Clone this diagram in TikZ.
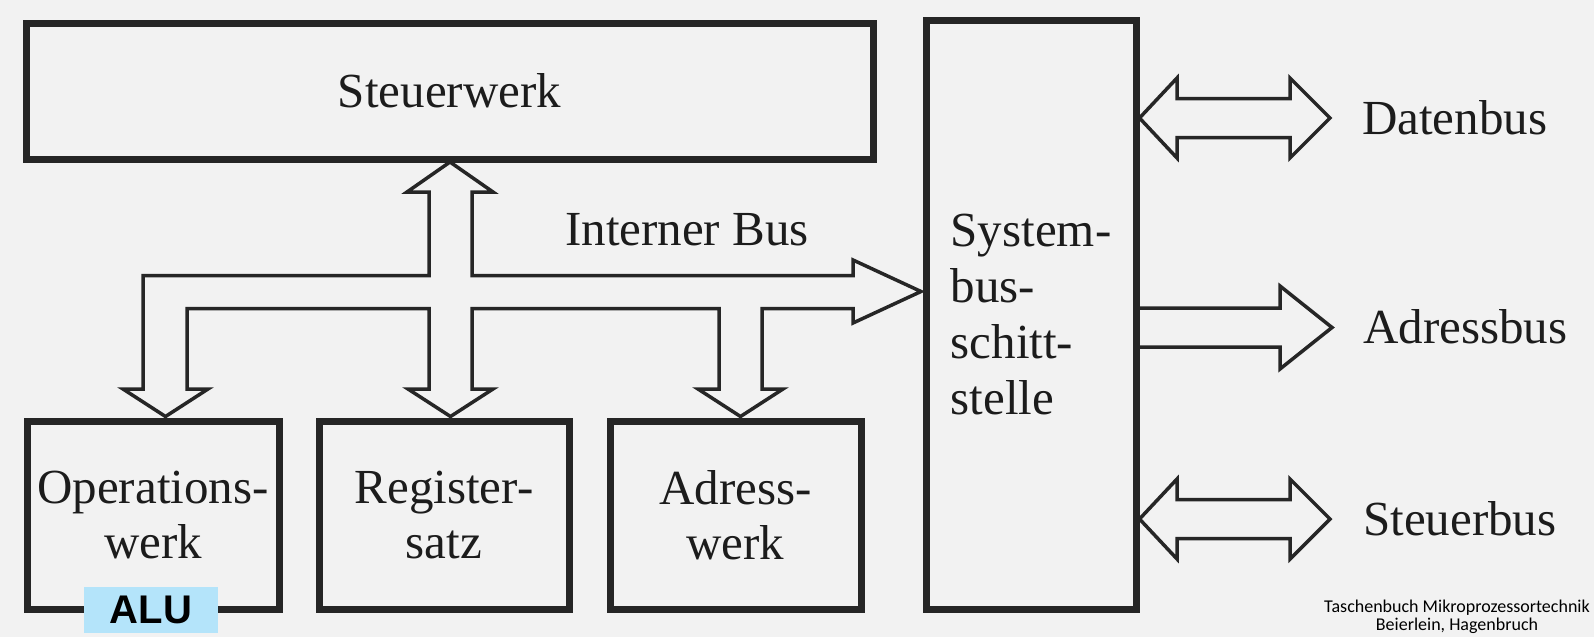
\documentclass[tikz,border=0pt]{standalone}
\usepackage{fontspec}
\setmainfont{Liberation Serif}
\newfontfamily\alufont{Liberation Sans}
\newfontfamily\srcfont{Carlito}
\definecolor{bg}{RGB}{242,242,242}
\definecolor{ink}{RGB}{38,38,38}
\definecolor{txt}{RGB}{28,28,28}
\definecolor{alublue}{RGB}{180,228,250}
\begin{document}
\begin{tikzpicture}[x=1pt,y=-1pt]
\tikzset{
  blk/.style={draw=ink, line width=7pt, inner sep=0pt, text=txt,
              font=\fontsize{49}{55}\selectfont},
  busline/.style={draw=ink, line width=3.5pt, line join=miter},
  lbl/.style={inner sep=0pt, text=txt, font=\fontsize{49}{55}\selectfont},
}
\fill[bg] (0,0) rectangle (1594,637);
\useasboundingbox (0,0) rectangle (1594,637);

% blocks
\node[blk, minimum width=847pt, minimum height=136pt] (steuer) at (449.5,91) {Steuerwerk};
\node[blk, align=left, minimum width=210pt, minimum height=589pt,
      font=\fontsize{49}{56}\selectfont] (sys) at (1031,314.5) {System-\\bus-\\schitt-\\stelle};
\node[blk, align=center, minimum width=252pt, minimum height=188pt] (ops) at (153,515) {Operations-\\werk};
\node[blk, align=center, minimum width=250pt, minimum height=188pt] (reg) at (444,515) {Register-\\satz};
\node[blk, align=center, minimum width=251pt, minimum height=188pt] (adr) at (735.5,515) {Adress-\\werk};

% internal bus
\draw[busline] (450,162) -- (493,192) -- (472,192) -- (472,275.5) -- (853,275.5)
  -- (853,260) -- (921,291.5) -- (853,323) -- (853,308.5) -- (762,308.5)
  -- (762,389) -- (783,389) -- (740.5,416.5) -- (698,389) -- (719,389)
  -- (719,308.5) -- (472,308.5) -- (472,389) -- (493,389) -- (450.5,416.5)
  -- (408,389) -- (429,389) -- (429,308.5) -- (187,308.5) -- (187,389)
  -- (208,389) -- (165.5,416.5) -- (123,389) -- (143,389) -- (143,275.5)
  -- (429,275.5) -- (429,192) -- (407,192) -- cycle;
\node[lbl, anchor=base] (ibus) at (687,245) {Interner Bus};

% system buses
\draw[busline] (1139.5,118) -- (1177,78) -- (1177,98.5) -- (1290,98.5) -- (1290,78)
  -- (1330,118) -- (1290,158) -- (1290,137.5) -- (1177,137.5) -- (1177,158) -- cycle;
\draw[busline] (1136,308) -- (1280,308) -- (1280,286) -- (1332,327.5) -- (1280,369)
  -- (1280,347) -- (1136,347);
\draw[busline] (1139.5,519) -- (1177,479) -- (1177,499.5) -- (1290,499.5) -- (1290,479)
  -- (1330,519) -- (1290,559) -- (1290,538.5) -- (1177,538.5) -- (1177,559) -- cycle;

\node[lbl, anchor=base west] (dbus) at (1362,134) {Datenbus};
\node[lbl, anchor=base west] (abus) at (1363,343) {Adressbus};
\node[lbl, anchor=base west] (sbus) at (1363,535) {Steuerbus};

% ALU tag
\node[fill=alublue, minimum width=134pt, minimum height=46pt, inner sep=0pt,
      font=\alufont\bfseries\fontsize{40}{44}\selectfont] (alu) at (151,610) {ALU};

% source
\node[align=center, inner sep=0pt, text=black,
      font=\srcfont\fontsize{18}{18}\selectfont] (src) at (1457,617)
  {Taschenbuch Mikroprozessortechnik\\Beierlein, Hagenbruch};
\end{tikzpicture}
\end{document}
